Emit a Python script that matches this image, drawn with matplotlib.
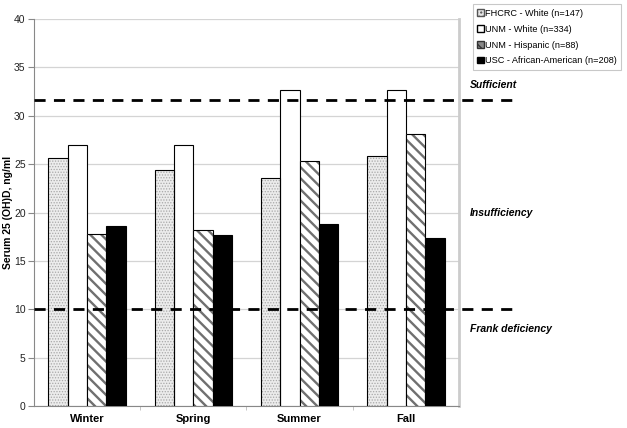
import numpy as np
import matplotlib
matplotlib.use("Agg")
import matplotlib.pyplot as plt
from matplotlib.patches import Patch

seasons = ["Winter", "Spring", "Summer", "Fall"]
groups = ["FHCRC - White (n=147)", "UNM - White (n=334)",
          "UNM - Hispanic (n=88)", "USC - African-American (n=208)"]
fhcrc_white = [25.6, 24.4, 23.6, 25.8]
unm_white = [27.0, 27.0, 32.7, 32.7]
unm_hispanic = [17.8, 18.2, 25.3, 28.1]
usc_black = [18.6, 17.7, 18.8, 17.4]
cutoffs = [31.6, 10.0]
zone_labels = ["Sufficient", "Insufficiency", "Frank deficiency"]
zone_y = [33.2, 19.95, 7.95]

plt.rcParams['font.family'] = ['Liberation Sans', 'DejaVu Sans']

fig = plt.figure(figsize=(6.27, 4.28), dpi=100)
ax = fig.add_axes([0.0542, 0.0514, 0.6778, 0.9042])

x = np.arange(len(seasons))
w = 0.182
offs = [-1.5 * w, -0.5 * w, 0.5 * w, 1.5 * w]

# dotted light gray
with plt.rc_context({'hatch.linewidth': 0.6}):
    ax.bar(x + offs[0], fhcrc_white, w, color="#ececec", edgecolor="#a8a8a8",
           hatch="......", linewidth=0, zorder=3)
ax.bar(x + offs[0], fhcrc_white, w, fill=False, edgecolor="black", linewidth=0.8, zorder=4)
# white
ax.bar(x + offs[1], unm_white, w, color="white", edgecolor="black", linewidth=0.8, zorder=3)
# diagonal stripes
with plt.rc_context({'hatch.linewidth': 1.7}):
    ax.bar(x + offs[2], unm_hispanic, w, color="white", edgecolor="#707070",
           hatch="\\\\\\", linewidth=0, zorder=3)
ax.bar(x + offs[2], unm_hispanic, w, fill=False, edgecolor="black", linewidth=0.8, zorder=4)
# black
ax.bar(x + offs[3], usc_black, w, color="black", edgecolor="black", linewidth=0.8, zorder=3)

ax.set_xlim(-0.5, 3.5)
ax.set_ylim(0, 40)
ax.set_yticks(np.arange(0, 41, 5))
ax.yaxis.grid(True, color="#d4d4d4", linewidth=0.9, zorder=0)
ax.set_axisbelow(True)
ax.set_xticks(x)
ax.set_xticklabels(seasons, fontsize=8, fontweight="bold")
ax.tick_params(axis="x", length=0, pad=6)
ax.set_xticks(np.arange(0.5, 3.5, 1), minor=True)
ax.tick_params(axis="x", which="minor", length=3, color="#bbbbbb")
ax.tick_params(axis="y", labelsize=7.5, length=4, pad=2, color="#888888", labelcolor="#222222")
ax.set_ylabel("Serum 25 (OH)D, ng/ml", fontsize=7.5, fontweight="bold")
ax.yaxis.set_label_coords(-0.05, 0.5)

ax.spines["top"].set_visible(False)
ax.spines["left"].set_color("#888888")
ax.spines["bottom"].set_color("#888888")
ax.spines["right"].set_color("#cccccc")
ax.spines["right"].set_linewidth(2)

for c in cutoffs:
    ax.plot([-0.5, 4.0], [c, c], color="black", linestyle=(0, (4, 3)),
            linewidth=2, clip_on=False, zorder=5)

for lab, yv in zip(zone_labels, zone_y):
    ax.text(3.6, yv, lab, fontsize=7.5, fontweight="bold", style="italic",
            va="center", ha="left", clip_on=False)

handles = [
    Patch(facecolor="#e6e6e6", edgecolor="#555555", hatch="...."),
    Patch(facecolor="white", edgecolor="black"),
    Patch(facecolor="#888888", edgecolor="#333333", hatch="\\\\"),
    Patch(facecolor="black", edgecolor="black"),
]
leg = fig.legend(handles, groups, loc="upper left", bbox_to_anchor=(0.754, 0.99),
                 fontsize=6.6, frameon=True, fancybox=False, handlelength=0.7,
                 handleheight=0.7, handletextpad=0.15, borderpad=0.5,
                 borderaxespad=0, labelspacing=0.75)
leg.get_frame().set_edgecolor("#bbbbbb")
leg.get_frame().set_linewidth(0.8)

fig.savefig("out.png", dpi=100)
